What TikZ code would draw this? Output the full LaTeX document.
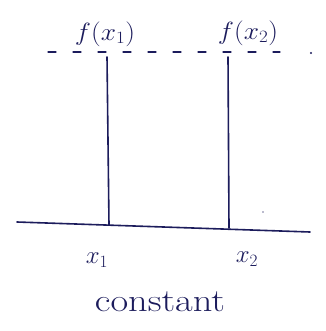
\documentclass[tikz,border=0pt]{standalone}
\definecolor{ink}{HTML}{1C1C5C}
\begin{document}
\begin{tikzpicture}[x=1pt,y=-1pt,
  inkline/.style={draw=ink,line width=1.6pt,line cap=round},
  lbl/.style={text=ink,inner sep=0pt,font=\fontsize{25}{25}\selectfont}]
\useasboundingbox[fill=white] (0,0) rectangle (325,331);
% dashed level line
\coordinate (dL) at (48,52);
\coordinate (dR) at (280,52);
\draw[inkline,line width=1.3pt,dash pattern=on 8pt off 17pt] (dL) -- (dR);
\fill[ink] (311,53) circle (1.2pt);
% axis
\coordinate (aL) at (17,222);
\coordinate (aR) at (310,232);
\draw[inkline] (aL) -- (aR);
% verticals
\coordinate (t1) at (107,57);
\coordinate (b1) at (109,225);
\coordinate (t2) at (228,57);
\coordinate (b2) at (229,228);
\draw[inkline] (t1) -- (b1);
\draw[inkline] (t2) -- (b2);
\fill[ink!60] (263,212) circle (0.8pt);
% labels
\node[lbl,xscale=1.1] (f1) at (105,34) {$f(x_1)$};
\node[lbl,xscale=1.1] (f2) at (248,33) {$f(x_2)$};
\node[lbl] (x1) at (97,260) {$x_1$};
\node[lbl] (x2) at (247,259) {$x_2$};
\node[lbl,font=\fontsize{32}{32}\selectfont,xscale=1.2] (c) at (160,302) {constant};
\end{tikzpicture}
\end{document}
